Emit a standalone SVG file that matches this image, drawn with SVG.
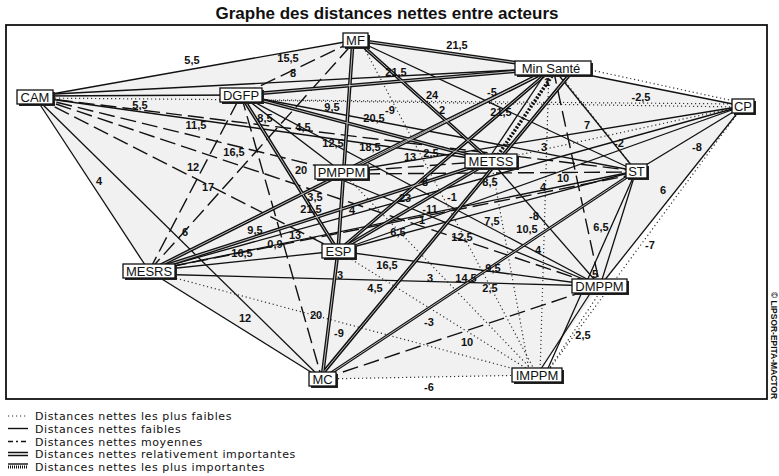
<svg xmlns="http://www.w3.org/2000/svg" width="779" height="476" viewBox="0 0 779 476">
  <style>
    text { font-family: "Liberation Sans", Arial, sans-serif; fill: #111; }
    .title { font-size: 17px; font-weight: bold; }
    .lbl { font-size: 11px; font-weight: bold; text-anchor: middle; }
    .node rect.box { fill: #fff; stroke: #111; stroke-width: 1.3; }
    .node rect.shd { fill: #222; }
    .node text { font-size: 13px; text-anchor: middle; }
    .leg { font-family: "DejaVu Sans", "Liberation Sans", sans-serif; font-size: 11px; letter-spacing: 0.6px; }
    line, path { fill: none; }
    .s { stroke: #111; stroke-width: 1.3; }
    .d { stroke: #333; stroke-width: 1.2; stroke-dasharray: 1.2 2.8; }
    .m { stroke: #111; stroke-width: 1.4; stroke-dasharray: 16 6; }
    .r { stroke: #111; stroke-width: 3.6; }
    .rc { stroke: #cfcfcf; stroke-width: 0.9; }
    .h { stroke: #111; stroke-width: 3.6; stroke-dasharray: 2 1.6; }
    .frame { fill: none; stroke: #111; stroke-width: 1.8; }
  </style>

  <rect width="779" height="476" fill="#fff"/>
  <text class="title" x="387" y="19" text-anchor="middle">Graphe des distances nettes entre acteurs</text>

  <!-- shaded hull of the actor network -->
  <polygon points="35,97 356,40 553,68 743,106 600,286 537,375 322,379 149,271" fill="#f1f1f1"/>

  <g id="connectors">
    <!-- plus faibles (dotted) -->
    <line class="d" x1="35" y1="98" x2="743" y2="104"/>
    <line class="d" x1="241" y1="100" x2="743" y2="107"/>
    <line class="d" x1="591" y1="70" x2="743" y2="103"/>
    <line class="d" x1="491" y1="161" x2="743" y2="106"/>
    <line class="d" x1="360" y1="40" x2="537" y2="375"/>
    <line class="d" x1="549" y1="68" x2="540" y2="375"/>
    <line class="d" x1="491" y1="161" x2="530" y2="375"/>
    <line class="d" x1="338" y1="251" x2="537" y2="375"/>
    <line class="d" x1="149" y1="271" x2="537" y2="375"/>
    <line class="d" x1="322" y1="379" x2="537" y2="375"/>
    <line class="d" x1="604" y1="286" x2="545" y2="375"/>
    <line class="d" x1="743" y1="106" x2="545" y2="375"/>
    <line class="d" x1="342" y1="172" x2="537" y2="375"/>
    <line class="d" x1="636" y1="171" x2="560" y2="75"/>

    <!-- faibles (solid) -->
    <line class="s" x1="35" y1="97" x2="356" y2="40"/>
    <line class="s" x1="35" y1="95" x2="553" y2="68"/>
    <line class="s" x1="35" y1="96" x2="241" y2="95"/>
    <line class="s" x1="35" y1="97" x2="491" y2="161"/>
    <line class="s" x1="35" y1="97" x2="149" y2="271"/>
    <line class="s" x1="35" y1="97" x2="322" y2="379"/>
    <line class="s" x1="356" y1="40" x2="636" y2="171"/>
    <line class="s" x1="553" y1="68" x2="636" y2="171"/>
    <line class="s" x1="553" y1="68" x2="743" y2="106"/>
    <line class="s" x1="241" y1="95" x2="636" y2="171"/>
    <line class="s" x1="241" y1="95" x2="600" y2="286"/>
    <line class="s" x1="342" y1="172" x2="743" y2="106"/>
    <line class="s" x1="342" y1="180" x2="600" y2="286"/>
    <line class="s" x1="491" y1="161" x2="600" y2="286"/>
    <line class="s" x1="338" y1="251" x2="636" y2="171"/>
    <line class="s" x1="149" y1="271" x2="338" y2="251"/>
    <line class="s" x1="338" y1="251" x2="600" y2="286"/>
    <line class="s" x1="338" y1="251" x2="743" y2="106"/>
    <line class="s" x1="149" y1="271" x2="636" y2="171"/>
    <line class="s" x1="149" y1="271" x2="743" y2="106"/>
    <line class="s" x1="149" y1="274" x2="600" y2="286"/>
    <line class="s" x1="149" y1="271" x2="322" y2="379"/>
    <line class="s" x1="636" y1="171" x2="600" y2="286"/>
    <line class="s" x1="636" y1="171" x2="545" y2="375"/>
    <line class="s" x1="743" y1="106" x2="636" y2="171"/>
    <line class="s" x1="743" y1="106" x2="600" y2="286"/>
    <line class="s" x1="595" y1="286" x2="537" y2="375"/>
    <line class="s" x1="322" y1="379" x2="636" y2="171"/>
    <line class="s" x1="149" y1="271" x2="491" y2="161"/>
    <line class="s" x1="241" y1="95" x2="342" y2="172"/>

    <!-- moyennes (dashed) -->
    <line class="m" x1="241" y1="95" x2="356" y2="40"/>
    <line class="m" x1="149" y1="271" x2="356" y2="40"/>
    <line class="m" x1="149" y1="271" x2="241" y2="95"/>
    <line class="m" x1="35" y1="97" x2="636" y2="171"/>
    <line class="m" x1="35" y1="97" x2="342" y2="172"/>
    <line class="m" x1="35" y1="97" x2="338" y2="251"/>
    <line class="m" x1="35" y1="97" x2="600" y2="286"/>
    <line class="m" x1="342" y1="172" x2="491" y2="161"/>
    <line class="m" x1="342" y1="174" x2="636" y2="172"/>
    <line class="m" x1="322" y1="379" x2="600" y2="286"/>
    <line class="m" x1="241" y1="95" x2="322" y2="379"/>
    <line class="m" x1="553" y1="68" x2="600" y2="286"/>
    <line class="m" x1="149" y1="271" x2="636" y2="174"/>

    <!-- relativement importantes (double) -->
    <g>
      <line class="r" x1="356" y1="40" x2="553" y2="68"/>
      <line class="r" x1="356" y1="40" x2="491" y2="161"/>
      <line class="r" x1="353" y1="40" x2="338" y2="251"/>
      <line class="r" x1="241" y1="95" x2="553" y2="68"/>
      <line class="r" x1="241" y1="95" x2="491" y2="161"/>
      <line class="r" x1="241" y1="95" x2="338" y2="251"/>
      <line class="r" x1="553" y1="68" x2="342" y2="172"/>
      <line class="r" x1="553" y1="68" x2="338" y2="251"/>
      <line class="r" x1="553" y1="68" x2="149" y2="271"/>
      <line class="r" x1="491" y1="161" x2="338" y2="251"/>
      <line class="r" x1="491" y1="161" x2="149" y2="271"/>
      <line class="r" x1="338" y1="251" x2="322" y2="379"/>
      <line class="r" x1="575" y1="68" x2="318" y2="379"/>
      <line class="r" x1="636" y1="171" x2="322" y2="379" style="stroke-width:3"/>
    </g>
    <g>
      <line class="rc" x1="356" y1="40" x2="553" y2="68"/>
      <line class="rc" x1="356" y1="40" x2="491" y2="161"/>
      <line class="rc" x1="353" y1="40" x2="338" y2="251"/>
      <line class="rc" x1="241" y1="95" x2="553" y2="68"/>
      <line class="rc" x1="241" y1="95" x2="491" y2="161"/>
      <line class="rc" x1="241" y1="95" x2="338" y2="251"/>
      <line class="rc" x1="553" y1="68" x2="342" y2="172"/>
      <line class="rc" x1="553" y1="68" x2="338" y2="251"/>
      <line class="rc" x1="553" y1="68" x2="149" y2="271"/>
      <line class="rc" x1="491" y1="161" x2="338" y2="251"/>
      <line class="rc" x1="491" y1="161" x2="149" y2="271"/>
      <line class="rc" x1="338" y1="251" x2="322" y2="379"/>
      <line class="rc" x1="575" y1="68" x2="318" y2="379"/>
      <line class="rc" x1="636" y1="171" x2="322" y2="379"/>
    </g>

    <!-- les plus importantes (hatched) -->
    <line class="s" x1="549" y1="68" x2="487" y2="161"/>
    <line class="h" x1="556" y1="70" x2="494" y2="161"/>
  </g>

  <g id="labels">
    <text class="lbl" x="192" y="64">5,5</text>
    <text class="lbl" x="140" y="109">5,5</text>
    <text class="lbl" x="196" y="129">11,5</text>
    <text class="lbl" x="234" y="156">16,5</text>
    <text class="lbl" x="288" y="62">15,5</text>
    <text class="lbl" x="293" y="77">8</text>
    <text class="lbl" x="457" y="49">21,5</text>
    <text class="lbl" x="396" y="76">21,5</text>
    <text class="lbl" x="432" y="99">24</text>
    <text class="lbl" x="492" y="96">-5</text>
    <text class="lbl" x="390" y="114">-9</text>
    <text class="lbl" x="442" y="114">2</text>
    <text class="lbl" x="501" y="116">21,5</text>
    <text class="lbl" x="332" y="111">9,5</text>
    <text class="lbl" x="374" y="122">20,5</text>
    <text class="lbl" x="265" y="122">8,5</text>
    <text class="lbl" x="303" y="131">4,5</text>
    <text class="lbl" x="333" y="147">12,5</text>
    <text class="lbl" x="370" y="151">18,5</text>
    <text class="lbl" x="410" y="161">13</text>
    <text class="lbl" x="431" y="157">2,5</text>
    <text class="lbl" x="641" y="101">-2,5</text>
    <text class="lbl" x="587" y="129">7</text>
    <text class="lbl" x="544" y="151">3</text>
    <text class="lbl" x="619" y="147">-2</text>
    <text class="lbl" x="697" y="151">-8</text>
    <text class="lbl" x="547" y="86">1</text>
    <text class="lbl" x="99" y="185">4</text>
    <text class="lbl" x="193" y="171">12</text>
    <text class="lbl" x="208" y="191">17</text>
    <text class="lbl" x="185" y="236">6</text>
    <text class="lbl" x="255" y="234">9,5</text>
    <text class="lbl" x="242" y="257">16,5</text>
    <text class="lbl" x="301" y="174">20</text>
    <text class="lbl" x="315" y="201">3,5</text>
    <text class="lbl" x="311" y="213">21,5</text>
    <text class="lbl" x="352" y="214">4</text>
    <text class="lbl" x="405" y="202">23</text>
    <text class="lbl" x="452" y="201">-1</text>
    <text class="lbl" x="430" y="213">-11</text>
    <text class="lbl" x="422" y="224">1</text>
    <text class="lbl" x="398" y="236">6,5</text>
    <text class="lbl" x="462" y="241">12,5</text>
    <text class="lbl" x="492" y="225">7,5</text>
    <text class="lbl" x="490" y="186">8,5</text>
    <text class="lbl" x="425" y="186">8</text>
    <text class="lbl" x="493" y="272">9,5</text>
    <text class="lbl" x="466" y="282">14,5</text>
    <text class="lbl" x="490" y="292">2,5</text>
    <text class="lbl" x="430" y="282">3</text>
    <text class="lbl" x="387" y="269">16,5</text>
    <text class="lbl" x="375" y="292">4,5</text>
    <text class="lbl" x="340" y="279">3</text>
    <text class="lbl" x="295" y="239">13</text>
    <text class="lbl" x="275" y="248">0,9</text>
    <text class="lbl" x="563" y="182">10</text>
    <text class="lbl" x="543" y="191">4</text>
    <text class="lbl" x="663" y="194">6</text>
    <text class="lbl" x="534" y="220">-8</text>
    <text class="lbl" x="527" y="233">10,5</text>
    <text class="lbl" x="601" y="231">6,5</text>
    <text class="lbl" x="538" y="254">4</text>
    <text class="lbl" x="650" y="249">-7</text>
    <text class="lbl" x="595" y="278">5</text>
    <text class="lbl" x="245" y="322">12</text>
    <text class="lbl" x="316" y="319">20</text>
    <text class="lbl" x="339" y="337">-9</text>
    <text class="lbl" x="429" y="326">-3</text>
    <text class="lbl" x="467" y="346">10</text>
    <text class="lbl" x="429" y="391">-6</text>
    <text class="lbl" x="583" y="339">2,5</text>
  </g>

  <!-- actors -->
  <g id="MF" class="node"><rect class="shd" x="345" y="35" width="25" height="14"/><rect class="box" x="343" y="33" width="25" height="14"/><text x="355.5" y="44.5">MF</text></g>
  <g id="MinSante" class="node"><rect class="shd" x="517" y="63" width="76" height="14"/><rect class="box" x="515" y="61" width="76" height="14"/><text x="551" y="72.5">Min  Santé</text></g>
  <g id="CAM" class="node"><rect class="shd" x="19" y="92" width="36" height="14"/><rect class="box" x="17" y="90" width="36" height="14"/><text x="35" y="101.5">CAM</text></g>
  <g id="DGFP" class="node"><rect class="shd" x="222" y="90" width="42" height="14"/><rect class="box" x="220" y="88" width="42" height="14"/><text x="241" y="99.5">DGFP</text></g>
  <g id="CP" class="node"><rect class="shd" x="734" y="101" width="22" height="14"/><rect class="box" x="732" y="99" width="22" height="14"/><text x="743" y="110.5">CP</text></g>
  <g id="PMPPM" class="node"><rect class="shd" x="317" y="167" width="53" height="14"/><rect class="box" x="315" y="165" width="53" height="14"/><text x="341.5" y="176.5">PMPPM</text></g>
  <g id="METSS" class="node"><rect class="shd" x="467" y="156" width="52" height="14"/><rect class="box" x="465" y="154" width="52" height="14"/><text x="491" y="165.5">METSS</text></g>
  <g id="ST" class="node"><rect class="shd" x="628" y="166" width="21" height="14"/><rect class="box" x="626" y="164" width="21" height="14"/><text x="636.5" y="175.5">ST</text></g>
  <g id="ESP" class="node"><rect class="shd" x="324" y="246" width="33" height="14"/><rect class="box" x="322" y="244" width="33" height="14"/><text x="338.5" y="255.5">ESP</text></g>
  <g id="MESRS" class="node"><rect class="shd" x="125" y="266" width="52" height="14"/><rect class="box" x="123" y="264" width="52" height="14"/><text x="149" y="275.5">MESRS</text></g>
  <g id="DMPPM" class="node"><rect class="shd" x="574" y="281" width="55" height="14"/><rect class="box" x="572" y="279" width="55" height="14"/><text x="599.5" y="290.5">DMPPM</text></g>
  <g id="MC" class="node"><rect class="shd" x="311" y="374" width="27" height="14"/><rect class="box" x="309" y="372" width="27" height="14"/><text x="322.5" y="383.5">MC</text></g>
  <g id="IMPPM" class="node"><rect class="shd" x="514" y="370" width="50" height="14"/><rect class="box" x="512" y="368" width="50" height="14"/><text x="537" y="379.5">IMPPM</text></g>

  <rect class="frame" x="6" y="25" width="761" height="374"/>
  <text x="771" y="292" transform="rotate(90 771 292)" font-size="9" font-weight="bold" textLength="107" lengthAdjust="spacingAndGlyphs">© LIPSOR-EPITA-MACTOR</text>

  <!-- legend -->
  <g id="legend">
    <line class="d" x1="8" y1="416" x2="28" y2="416"/>
    <line class="s" x1="8" y1="428.5" x2="28" y2="428.5" style="stroke-width:1.4"/>
    <line class="s" x1="8" y1="441.5" x2="28" y2="441.5" style="stroke-dasharray:5 3 2 3;stroke-width:1.4"/>
    <line class="s" x1="8" y1="452.5" x2="28" y2="452.5" style="stroke-width:1.5"/>
    <line class="s" x1="8" y1="455.5" x2="28" y2="455.5" style="stroke-width:1.5"/>
    <line class="s" x1="8" y1="464" x2="28" y2="464" style="stroke-width:1.4"/>
    <line class="s" x1="8" y1="467" x2="28" y2="467" style="stroke-width:3;stroke-dasharray:1 1"/>
    <text class="leg" x="35" y="420">Distances nettes les plus faibles</text>
    <text class="leg" x="35" y="432.5">Distances nettes faibles</text>
    <text class="leg" x="35" y="445.5">Distances nettes moyennes</text>
    <text class="leg" x="35" y="458">Distances nettes relativement importantes</text>
    <text class="leg" x="35" y="470.5">Distances nettes les plus importantes</text>
  </g>
</svg>
